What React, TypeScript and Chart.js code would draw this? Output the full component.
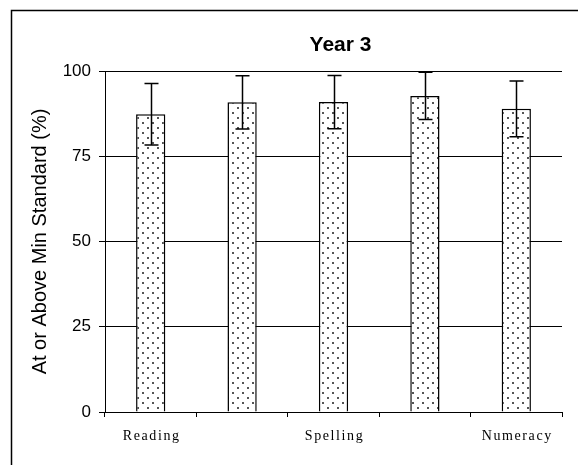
import React, { useEffect, useRef } from "react";
import { Chart, registerables } from "chart.js";

Chart.register(...registerables);

const categories = ["Reading", "Writing", "Spelling", "Grammar & Punctuation", "Numeracy"];
const shownLabels = [true, false, true, false, true];
const values = [87.3, 90.8, 90.9, 92.7, 88.9];
const errors = [9.0, 7.8, 7.8, 6.9, 8.2];
const yTicks = [0, 25, 50, 75, 100];
const titleText = "Year 3";
const yTitleText = "At or Above Min Standard (%)";

const SANS = "'Liberation Sans', Arial, sans-serif";

function makePattern(): CanvasPattern | string {
  const c = document.createElement("canvas");
  c.width = 10;
  c.height = 10;
  const g = c.getContext("2d");
  if (!g) return "#fff";
  g.fillStyle = "#ffffff";
  g.fillRect(0, 0, 10, 10);
  g.fillStyle = "#555555";
  g.fillRect(2, 2, 2, 2);
  g.fillRect(7, 7, 2, 2);
  const p = g.createPattern(c, "repeat");
  return p || "#fff";
}

const framePlugin = {
  id: "frame",
  beforeDraw(chart: any) {
    const ctx = chart.ctx;
    ctx.save();
    ctx.fillStyle = "#ffffff";
    ctx.fillRect(0, 0, chart.width, chart.height);
    ctx.strokeStyle = "#000";
    ctx.lineWidth = 1.5;
    ctx.beginPath();
    ctx.moveTo(11.5, chart.height);
    ctx.lineTo(11.5, 10.5);
    ctx.lineTo(chart.width, 10.5);
    ctx.stroke();
    ctx.restore();
  },
};

const titlePlugin = {
  id: "chartTitle",
  afterDraw(chart: any) {
    const ctx = chart.ctx;
    const area = chart.chartArea;
    ctx.save();
    ctx.fillStyle = "#000";
    ctx.font = `bold 21px ${SANS}`;
    ctx.textAlign = "center";
    ctx.textBaseline = "middle";
    ctx.fillText(titleText, (area.left + area.right) / 2 + 7, 45);
    ctx.restore();
  },
};

const errorBarPlugin = {
  id: "errorBars",
  afterDatasetsDraw(chart: any) {
    const ctx = chart.ctx;
    const yScale = chart.scales.y;
    const meta = chart.getDatasetMeta(0);
    ctx.save();
    ctx.strokeStyle = "#000";
    ctx.lineWidth = 1.5;
    meta.data.forEach((bar: any, i: number) => {
      const x = Math.round(bar.x) + 0.5;
      const yTop = yScale.getPixelForValue(values[i] + errors[i]);
      const yBot = yScale.getPixelForValue(values[i] - errors[i]);
      ctx.beginPath();
      ctx.moveTo(x, yTop);
      ctx.lineTo(x, yBot);
      ctx.moveTo(x - 7, yTop);
      ctx.lineTo(x + 7, yTop);
      ctx.moveTo(x - 7, yBot);
      ctx.lineTo(x + 7, yBot);
      ctx.stroke();
    });
    ctx.restore();
  },
};

const xLabelPlugin = {
  id: "xLabels",
  afterDraw(chart: any) {
    const ctx = chart.ctx;
    const xScale = chart.scales.x;
    ctx.save();
    ctx.fillStyle = "#000";
    ctx.font = "14px 'Liberation Serif', 'Times New Roman', serif";
    (ctx as any).letterSpacing = "1.6px";
    ctx.textAlign = "center";
    ctx.textBaseline = "middle";
    categories.forEach((c, i) => {
      if (!shownLabels[i]) return;
      const x = xScale.getPixelForValue(i);
      ctx.fillText(c, x + 1, chart.chartArea.bottom + 24);
    });
    ctx.restore();
  },
};

export default function App() {
  const ref = useRef<HTMLCanvasElement>(null);
  useEffect(() => {
    if (!ref.current) return;
    const chart = new Chart(ref.current, {
      type: "bar",
      data: {
        labels: categories,
        datasets: [
          {
            data: values,
            backgroundColor: makePattern() as any,
            borderColor: "#000",
            borderWidth: 1.5,
            barPercentage: 0.32,
            categoryPercentage: 1,
          },
        ],
      },
      options: {
        animation: false,
        responsive: false,
        devicePixelRatio: 1,
        layout: { padding: { left: 12, right: 16, top: 71, bottom: 0 } },
        plugins: {
          legend: { display: false },
          tooltip: { enabled: false },
          title: { display: false },
        },
        scales: {
          x: {
            grid: {
              offset: true,
              drawOnChartArea: false,
              drawTicks: true,
              tickLength: 5,
              color: "#000",
              lineWidth: 1,
            },
            border: { display: true, color: "#000", width: 1 },
            ticks: { display: false },
            afterFit: (s: any) => {
              s.height = 53;
            },
          },
          y: {
            min: 0,
            max: 100,
            afterBuildTicks: (s: any) => {
              s.ticks = yTicks.map((v) => ({ value: v }));
            },
            grid: {
              color: "#000",
              lineWidth: 1,
              drawTicks: true,
              tickLength: 6,
            },
            border: { display: true, color: "#000", width: 1 },
            ticks: {
              color: "#000",
              padding: 8,
              font: { family: SANS, size: 17 },
            },
            title: {
              display: true,
              text: yTitleText,
              color: "#000",
              font: { family: SANS, size: 20 },
              padding: { top: 16, bottom: 0 },
            },
            afterFit: (s: any) => {
              s.width = 93;
            },
          },
        },
      },
      plugins: [framePlugin, errorBarPlugin, xLabelPlugin, titlePlugin],
    });
    return () => chart.destroy();
  }, []);
  return (
    <div style={{ position: "fixed", left: 0, top: 0, width: 578, height: 465 }}>
      <canvas ref={ref} width={578} height={465} style={{ display: "block" }} />
    </div>
  );
}
